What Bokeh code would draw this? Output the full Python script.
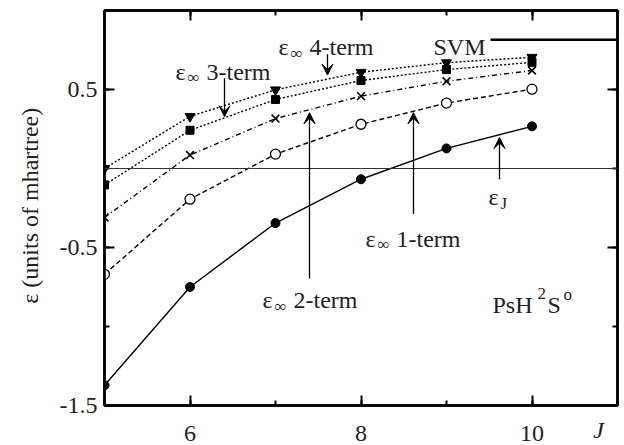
from math import pi
from bokeh.plotting import figure
from bokeh.models import LinearAxis, FixedTicker, Span, Label, Arrow, VeeHead, Range1d
from bokeh.embed import file_html
from bokeh.resources import INLINE

# ---- data -------------------------------------------------------------
J = [5, 6, 7, 8, 9, 10]
eps_J = [-1.372, -0.750, -0.345, -0.068, 0.127, 0.267]
eps_1term = [-0.670, -0.194, 0.091, 0.280, 0.414, 0.502]
eps_2term = [-0.310, 0.085, 0.316, 0.458, 0.552, 0.620]
eps_3term = [-0.104, 0.242, 0.437, 0.557, 0.626, 0.672]
eps_4term = [0.000, 0.330, 0.498, 0.609, 0.670, 0.704]
svm_value = 0.815

x_major = [6, 8, 10]
x_minor = [5, 6, 7, 8, 9, 10, 11]
y_major = [-1.5, -0.5, 0.5]
y_minor = [-1.5, -1.0, -0.5, 0.0, 0.5, 1.0]
y_tick_labels = {-1.5: "-1.5", -0.5: "-0.5", 0.5: "0.5"}
x_tick_labels = {6: "6", 8: "8", 10: "10"}
x_title = "J"
y_title = "ε (units of mhartree)"

FONT = "Liberation Serif"

# ---- layout helpers (pixel -> data for annotation placement) ----------
XMIN, XMAX, YMIN, YMAX = 5.0, 11.0, -1.5, 1.0
FL, FR, FT, FB = 104, 617, 10, 408
W, H = 624, 445


def px2x(px):
    return XMIN + (px - FL) * (XMAX - XMIN) / (FR - FL)


def py2y(py):
    return YMAX - (py - FT) * (YMAX - YMIN) / (FB - FT)


p = figure(width=W, height=H, x_range=Range1d(XMIN, XMAX), y_range=Range1d(YMIN, YMAX),
           output_backend="svg", toolbar_location=None,
           min_border_left=FL, min_border_right=W - FR,
           min_border_top=FT, min_border_bottom=H - FB)
p.grid.visible = False
p.outline_line_color = "black"
p.outline_line_width = 2.5
p.background_fill_color = "white"
p.border_fill_color = "white"


def style_axis(ax, ticks, minor, labels, show_labels=True):
    ax.ticker = FixedTicker(ticks=ticks, minor_ticks=minor)
    ax.axis_line_width = 2.5
    ax.axis_line_color = "black"
    ax.major_tick_in = 10
    ax.major_tick_out = 0
    ax.minor_tick_in = 5
    ax.minor_tick_out = 0
    ax.major_tick_line_width = 2
    ax.minor_tick_line_width = 2
    ax.major_tick_line_color = "black"
    ax.minor_tick_line_color = "black"
    ax.major_label_text_font = FONT
    ax.major_label_text_color = "#222222"
    ax.major_label_text_font_size = "24px"
    if show_labels:
        ax.major_label_overrides = labels
    else:
        ax.major_label_overrides = {t: "" for t in ticks}
        ax.major_label_standoff = 0


def title_axis(ax, pos, text, standoff, style="normal", orientation="horizontal"):
    """An axis that carries only one label (used as an axis title / spacer)."""
    ax.ticker = FixedTicker(ticks=[pos], minor_ticks=[])
    ax.major_label_overrides = {pos: text}
    ax.axis_line_color = None
    ax.major_tick_line_color = None
    ax.minor_tick_line_color = None
    ax.major_tick_in = 0
    ax.major_tick_out = 0
    ax.minor_tick_in = 0
    ax.minor_tick_out = 0
    ax.major_label_standoff = standoff
    ax.major_label_orientation = orientation
    ax.major_label_text_font = FONT
    ax.major_label_text_font_size = "24px"
    ax.major_label_text_font_style = style
    ax.major_label_text_color = "#222222"


xa = p.xaxis[0]
style_axis(xa, x_major, x_minor, x_tick_labels)
xa.major_label_standoff = 20

ya = p.yaxis[0]
style_axis(ya, y_major, y_minor, y_tick_labels)
ya.major_label_standoff = 7

top = LinearAxis()
style_axis(top, x_major, x_minor, {}, show_labels=False)
p.add_layout(top, "above")
right = LinearAxis()
style_axis(right, y_major, y_minor, {}, show_labels=False)
p.add_layout(right, "right")

# axis titles
xt = LinearAxis()
title_axis(xt, px2x(598), x_title, -27, style="italic")
p.add_layout(xt, "below")
spacer = LinearAxis()
title_axis(spacer, px2x(598), "", -14)
p.add_layout(spacer, "below")
yt = LinearAxis()
title_axis(yt, py2y(108), y_title, 26, orientation=pi / 2)
p.add_layout(yt, "left")

# zero line
p.add_layout(Span(location=0, dimension="width", line_color="#333333", line_width=1))

# ---- series -----------------------------------------------------------
LW = 1.4
p.line(J, eps_J, line_color="black", line_width=LW)
p.scatter(J, eps_J, marker="circle", size=9, fill_color="black", line_color="black")

p.line(J, eps_1term, line_color="black", line_width=LW, line_dash="5 3")
p.scatter(J, eps_1term, marker="circle", size=10, fill_color="white", line_color="black", line_width=1.3)

p.line(J, eps_2term, line_color="black", line_width=LW, line_dash="5 3 1 3")
p.scatter(J, eps_2term, marker="x", size=11, line_color="black", line_width=1.6)

p.line(J, eps_3term, line_color="black", line_width=LW, line_dash="2 2")
p.scatter(J, eps_3term, marker="square", size=8, fill_color="black", line_color="black")

p.line(J, eps_4term, line_color="black", line_width=LW, line_dash="2 2")
p.scatter(J, eps_4term, marker="inverted_triangle", size=10, fill_color="black", line_color="black")

# SVM reference line
p.line([px2x(490), XMAX], [svm_value, svm_value], line_color="black", line_width=2.5)


# ---- annotations ------------------------------------------------------
def txt(px, py, text, size=24, style="normal"):
    p.add_layout(Label(x=px2x(px), y=py2y(py), text=text, text_font=FONT,
                       text_font_size=f"{size}px", text_font_style=style,
                       text_color="#222222",
                       text_align="left", text_baseline="alphabetic"))


def eps_inf(px, py, rest):
    txt(px, py, "ε")
    txt(px + 12, py + 6, "∞", size=17)
    txt(px + 31, py, rest)


def arrow(px, py0, py1):
    p.add_layout(Arrow(x_start=px2x(px), y_start=py2y(py0), x_end=px2x(px), y_end=py2y(py1),
                       line_color="black", line_width=1.3,
                       end=VeeHead(size=11, fill_color="black", line_color="black", line_width=1)))


eps_inf(278, 47, "4-term")
arrow(327, 54, 75)
eps_inf(175, 72, "3-term")
arrow(224, 78, 117)
eps_inf(262, 302, "2-term")
arrow(309, 280, 113)
eps_inf(365, 240, "1-term")
arrow(413, 215, 113)

txt(488, 198, "ε")
txt(500, 204, "J", size=17)
arrow(499, 180, 138)

txt(433, 47, "SVM")

txt(492, 307, "PsH")
txt(537, 295, "2", size=17)
txt(547, 307, "S")
txt(563, 296, "o", size=17)

open("out.html", "w").write(file_html(p, INLINE))
